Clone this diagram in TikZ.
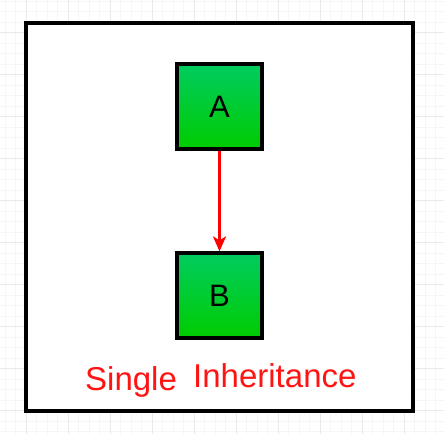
\documentclass[tikz,border=0pt]{standalone}
\usepackage{fontspec}
\setmainfont{Liberation Sans}
\usetikzlibrary{arrows.meta}
\definecolor{gridminor}{RGB}{246,246,246}
\definecolor{gridmajor}{RGB}{234,234,234}
\definecolor{boxtop}{RGB}{0,204,96}
\definecolor{boxbot}{RGB}{0,204,0}
\definecolor{txtred}{RGB}{255,20,20}
\tikzset{
  classbox/.style={draw=black, line width=3.2pt, minimum width=85pt, minimum height=85pt,
    inner sep=0pt, top color=boxtop, bottom color=boxbot,
    font=\fontsize{31}{36}\selectfont},
  inherit/.style={draw=red, line width=2.6pt, -{Stealth[length=15pt,width=13pt,inset=4pt]}},
  frame/.style={draw=black, line width=3.2pt},
  caption/.style={text=txtred, inner sep=0pt, anchor=base west, font=\fontsize{33}{39}\selectfont}
}
\begin{document}
\begin{tikzpicture}[x=1pt,y=-1pt]
\useasboundingbox (0,0) rectangle (444,434);
\fill[white] (0,0) rectangle (444,434);
% background grid
\foreach \k in {0,...,43} {
  \draw[gridminor, line width=0.8pt] ({-5.5+10.5*\k},0) -- ({-5.5+10.5*\k},434);
  \draw[gridminor, line width=0.8pt] (0,{1.1+10.5*\k}) -- (444,{1.1+10.5*\k});
}
\foreach \k in {-1,...,10} {
  \draw[gridmajor, line width=0.8pt] ({26+42*\k},0) -- ({26+42*\k},434);
  \draw[gridmajor, line width=0.8pt] (0,{32.6+42*\k}) -- (444,{32.6+42*\k});
}
% frame
\draw[frame, fill=white] (26,23) rectangle (413,411);
% classes
\node[classbox] (A) at (219.5,106.5) {A};
\node[classbox] (B) at (219.5,295.5) {B};
\draw[inherit] (A.south) -- (B.north);
% caption
\node[caption] (single) at (85,390) {Single};
\node[caption] (inh) at (193,387) {Inheritance};
\end{tikzpicture}
\end{document}
